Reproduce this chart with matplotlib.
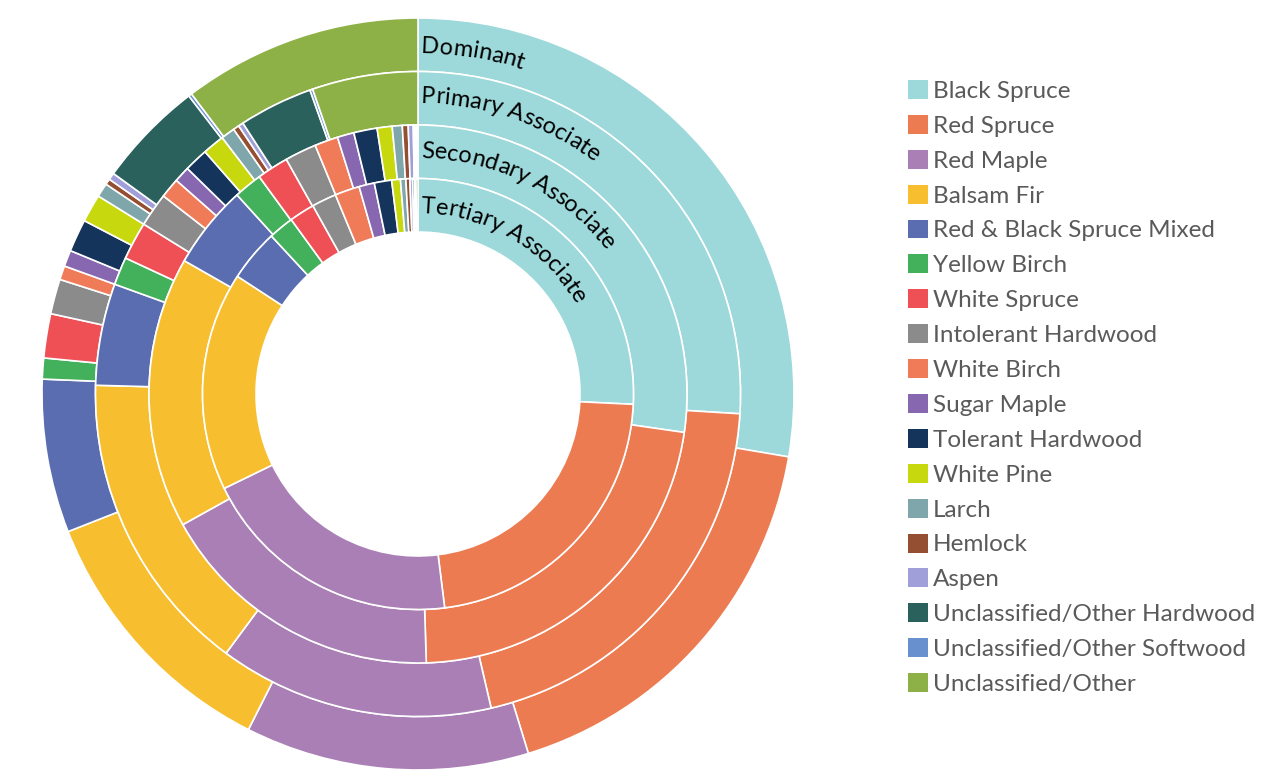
import numpy as np
import matplotlib
matplotlib.use("Agg")
import matplotlib.pyplot as plt
from matplotlib.font_manager import FontProperties

# Forest composition by stand layer (% of area), clockwise from 12 o'clock
species = [
    "Black Spruce", "Red Spruce", "Red Maple", "Balsam Fir",
    "Red & Black Spruce Mixed", "Yellow Birch", "White Spruce",
    "Intolerant Hardwood", "White Birch", "Sugar Maple", "Tolerant Hardwood",
    "White Pine", "Larch", "Hemlock", "Aspen", "Unclassified/Other Hardwood",
    "Unclassified/Other Softwood", "Unclassified/Other",
]
colors = [
    "#9dd8da", "#ec7b52", "#a97fb6", "#f7bf2f", "#5a6db0", "#43b05c",
    "#ef5055", "#8b8b8b", "#f07b59", "#8867b1", "#15345c", "#c8d80e",
    "#7fa7ab", "#944f33", "#a09fd9", "#2a615d", "#688fce", "#8db146",
]
dominant = [27.7, 17.6, 12.2, 11.6, 6.6, 0.9, 1.9, 1.5, 0.6, 0.7, 1.4, 1.2,
            0.6, 0.25, 0.3, 4.6, 0.14, 10.3]
primary = [26.0, 20.4, 13.8, 15.3, 5.1, 1.4, 1.9, 1.7, 1.0, 0.8, 1.2, 1.1,
           0.7, 0.3, 0.25, 3.7, 0.14, 5.3]
secondary = [27.25, 22.2, 17.4, 16.3, 5.0, 1.7, 1.9, 1.9, 1.4, 1.0, 1.4, 0.9,
             0.6, 0.35, 0.3, 0.1, 0.08, 0.1]
tertiary = [25.75, 22.25, 19.75, 16.4, 3.9, 1.9, 1.9, 1.85, 1.85, 1.15, 1.3,
            0.65, 0.4, 0.3, 0.2, 0.15, 0.1, 0.15]
ring_names = ["Dominant", "Primary Associate", "Secondary Associate",
              "Tertiary Associate"]

W, H, DPI = 1274, 772, 100
CX, CY, R = 418, 394, 376  # donut centre and outer radius in pixels

fig = plt.figure(figsize=(W / DPI, H / DPI), dpi=DPI)
ax = fig.add_axes([(CX - R) / W, (H - CY - R) / H, 2 * R / W, 2 * R / H])

radii = [1.0, 0.8577, 0.7154, 0.5731]
ring_width = 0.1423
handles = None
for vals, rad in zip([dominant, primary, secondary, tertiary], radii):
    wedges, _ = ax.pie(vals, radius=rad, colors=colors, startangle=90,
                       counterclock=False,
                       wedgeprops=dict(width=ring_width, edgecolor="white",
                                       linewidth=1.2))
    if handles is None:
        handles = wedges
ax.set_xlim(-1, 1)
ax.set_ylim(-1, 1)

# ring names written along the arcs
label_font = FontProperties(family="Lato", size=17)
renderer = fig.canvas.get_renderer()
bar_w = renderer.get_text_width_height_descent("|", label_font, ismath=False)[0]


def text_px(s):
    w = renderer.get_text_width_height_descent(s + "|", label_font, ismath=False)[0]
    return w - bar_w


def curved_label(text, r_base, start_px=3):
    for i, ch in enumerate(text):
        if ch == " ":
            continue
        mid = start_px + (text_px(text[:i]) + text_px(text[:i + 1])) / 2
        theta = mid / (r_base * R)
        ax.text(r_base * np.sin(theta), r_base * np.cos(theta), ch,
                fontproperties=label_font, color="black",
                rotation=-np.degrees(theta), rotation_mode="anchor",
                ha="center", va="baseline")


for name, rb in zip(ring_names, [0.907, 0.774, 0.628, 0.481]):
    curved_label(name, rb)

leg = fig.legend(handles, species, loc="upper left",
                 bbox_to_anchor=(908 / W, 1 - 80 / H), frameon=False,
                 prop=FontProperties(family="Lato", size=17.5),
                 handlelength=0.82, handleheight=0.82, handletextpad=0.2,
                 labelspacing=0.535, borderaxespad=0, borderpad=0)
for t in leg.get_texts():
    t.set_color("#5a5a5a")
for h in leg.legend_handles:
    h.set_edgecolor("none")

fig.savefig("out.png", dpi=DPI)
